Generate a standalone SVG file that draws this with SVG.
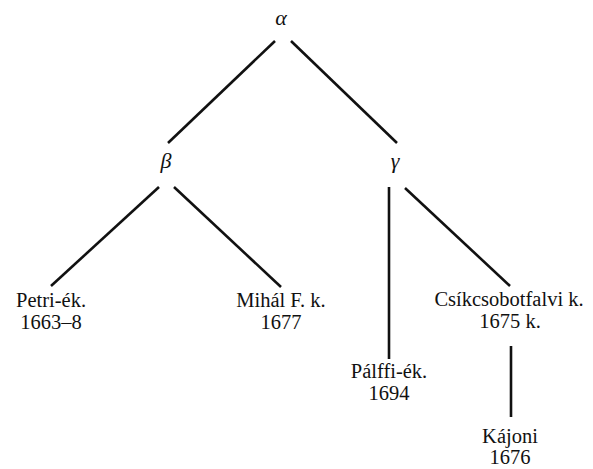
<svg xmlns="http://www.w3.org/2000/svg" width="593" height="469" viewBox="0 0 593 469">
  <style>
    .lbl { font-family: 'Liberation Serif', 'DejaVu Serif', serif; font-size: 20.5px; fill: #111; text-anchor: middle; }
    .greek { font-family: 'Liberation Serif', 'DejaVu Serif', serif; font-size: 22px; font-style: italic; fill: #111; text-anchor: middle; }
    .edge { stroke: #111; stroke-width: 2.6; fill: none; stroke-linecap: butt; }
  </style>
  <rect width="593" height="469" fill="#fff"/>

  <g id="connectors">
    <line class="edge" x1="275" y1="41" x2="168" y2="143"/>
    <line class="edge" x1="291" y1="41" x2="397" y2="143"/>
    <line class="edge" x1="159" y1="187" x2="51" y2="286"/>
    <line class="edge" x1="174" y1="187" x2="281" y2="287"/>
    <line class="edge" x1="389" y1="187" x2="389" y2="359"/>
    <line class="edge" x1="405" y1="188" x2="510" y2="286"/>
    <line class="edge" x1="511" y1="346" x2="511" y2="417"/>
  </g>

  <g id="alpha"><text class="greek" x="281" y="25">α</text></g>
  <g id="beta"><text class="greek" x="166" y="168">β</text></g>
  <g id="gamma"><text class="greek" x="395" y="168">γ</text></g>

  <g id="petri">
    <text class="lbl" x="51" y="307">Petri-ék.</text>
    <text class="lbl" x="51" y="329">1663–8</text>
  </g>
  <g id="mihal">
    <text class="lbl" x="281" y="307">Mihál F. k.</text>
    <text class="lbl" x="281" y="329">1677</text>
  </g>
  <g id="csikcsobotfalvi">
    <text class="lbl" x="509" y="306">Csíkcsobotfalvi k.</text>
    <text class="lbl" x="510" y="328">1675 k.</text>
  </g>
  <g id="palffi">
    <text class="lbl" x="389" y="378">Pálffi-ék.</text>
    <text class="lbl" x="389" y="400">1694</text>
  </g>
  <g id="kajoni">
    <text class="lbl" x="510" y="443">Kájoni</text>
    <text class="lbl" x="510" y="464">1676</text>
  </g>
</svg>
